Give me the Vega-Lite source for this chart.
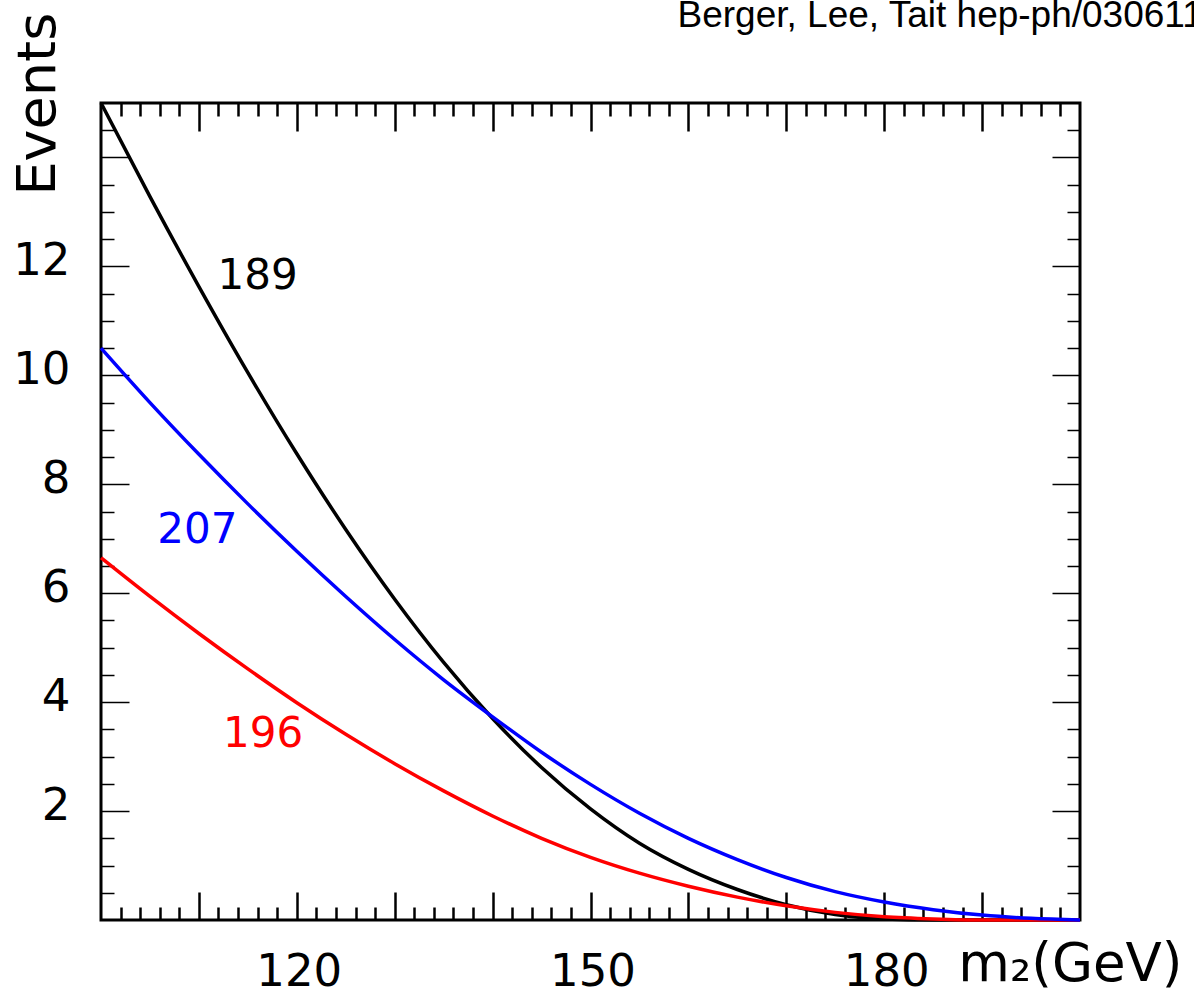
{
  "$schema": "https://vega.github.io/schema/vega-lite/v6.json",
  "width": 979,
  "height": 817,
  "autosize": {"type": "none"},
  "padding": {"left": 101, "top": 103, "right": 114, "bottom": 70},
  "background": "white",
  "datasets": {
    "c189": [
      {"m": 100, "n": 15.0}, {"m": 105, "n": 13.28}, {"m": 110, "n": 11.63}, {"m": 115, "n": 10.05},
      {"m": 120, "n": 8.56}, {"m": 125, "n": 7.17}, {"m": 130, "n": 5.89}, {"m": 135, "n": 4.73},
      {"m": 140, "n": 3.7}, {"m": 145, "n": 2.8}, {"m": 150, "n": 2.04}, {"m": 155, "n": 1.41},
      {"m": 160, "n": 0.93}, {"m": 165, "n": 0.56}, {"m": 170, "n": 0.28}, {"m": 175, "n": 0.1},
      {"m": 180, "n": 0.02}, {"m": 185, "n": 0.0}, {"m": 190, "n": 0.0}, {"m": 195, "n": 0.0},
      {"m": 200, "n": 0.0}
    ],
    "c196": [
      {"m": 100, "n": 6.65}, {"m": 105, "n": 5.94}, {"m": 110, "n": 5.26}, {"m": 115, "n": 4.61},
      {"m": 120, "n": 3.99}, {"m": 125, "n": 3.41}, {"m": 130, "n": 2.87}, {"m": 135, "n": 2.37},
      {"m": 140, "n": 1.91}, {"m": 145, "n": 1.5}, {"m": 150, "n": 1.15}, {"m": 155, "n": 0.86},
      {"m": 160, "n": 0.62}, {"m": 165, "n": 0.42}, {"m": 170, "n": 0.26}, {"m": 175, "n": 0.14},
      {"m": 180, "n": 0.06}, {"m": 185, "n": 0.02}, {"m": 190, "n": 0.0}, {"m": 195, "n": 0.0},
      {"m": 200, "n": 0.0}
    ],
    "c207": [
      {"m": 100, "n": 10.5}, {"m": 105, "n": 9.5}, {"m": 110, "n": 8.55}, {"m": 115, "n": 7.64},
      {"m": 120, "n": 6.77}, {"m": 125, "n": 5.94}, {"m": 130, "n": 5.15}, {"m": 135, "n": 4.41},
      {"m": 140, "n": 3.73}, {"m": 145, "n": 3.08}, {"m": 150, "n": 2.49}, {"m": 155, "n": 1.96},
      {"m": 160, "n": 1.5}, {"m": 165, "n": 1.11}, {"m": 170, "n": 0.78}, {"m": 175, "n": 0.52},
      {"m": 180, "n": 0.33}, {"m": 185, "n": 0.19}, {"m": 190, "n": 0.09}, {"m": 195, "n": 0.03},
      {"m": 200, "n": 0.0}
    ],
    "labels": [
      {"m": 116.0, "n": 11.82, "label": "189"},
      {"m": 109.85, "n": 7.16, "label": "207"},
      {"m": 116.55, "n": 3.42, "label": "196"}
    ]
  },
  "layer": [
    {
      "data": {"name": "c189"},
      "mark": {"type": "line", "color": "black", "strokeWidth": 3.5, "interpolate": "monotone"},
      "encoding": {
        "x": {
          "field": "m", "type": "quantitative",
          "scale": {"domain": [100, 200], "nice": false, "zero": false},
          "axis": {"orient": "bottom", "values": [102,104,106,108,112,114,116,118,122,124,126,128,132,134,136,138,142,144,146,148,152,154,156,158,162,164,166,168,172,174,176,178,182,184,186,188,192,194,196,198],
            "tickSize": -13, "tickWidth": 2.5, "tickColor": "black", "labels": false, "title": null, "domain": false, "grid": false}
        },
        "y": {
          "field": "n", "type": "quantitative",
          "scale": {"domain": [0, 15], "nice": false, "zero": false},
          "axis": {"orient": "left", "values": [0.5,1,1.5,2.5,3,3.5,4.5,5,5.5,6.5,7,7.5,8.5,9,9.5,10.5,11,11.5,12.5,13,13.5,14.5],
            "tickSize": -13, "tickWidth": 1.5, "tickColor": "black", "labels": false, "title": null, "domain": false, "grid": false}
        }
      }
    },
    {
      "data": {"name": "c196"},
      "mark": {"type": "line", "color": "#ff0000", "strokeWidth": 3.5, "interpolate": "monotone"},
      "encoding": {
        "x": {
          "field": "m", "type": "quantitative",
          "scale": {"domain": [100, 200], "nice": false, "zero": false},
          "axis": {"orient": "bottom", "values": [110,120,130,140,150,160,170,180,190],
            "labelExpr": "datum.value % 30 == 0 ? datum.label : ''",
            "tickSize": -28, "tickWidth": 2.5, "tickColor": "black", "domain": false, "grid": false,
            "labelFont": "DejaVu Sans", "labelFontSize": 45, "labelColor": "black", "labelPadding": 57, "labelBaseline": "top", "labelFlush": false, "labelOffset": 2,
            "title": "m₂(GeV)", "titleFont": "DejaVu Sans", "titleFontSize": 53, "titleFontWeight": "normal", "titleColor": "black",
            "titleX": 1081, "titleY": 60, "titleAlign": "right", "titleBaseline": "alphabetic"}
        },
        "y": {
          "field": "n", "type": "quantitative",
          "scale": {"domain": [0, 15], "nice": false, "zero": false},
          "axis": {"orient": "left", "values": [2,4,6,8,10,12,14],
            "labelExpr": "datum.value <= 12 ? datum.label : ''",
            "tickSize": -28, "tickWidth": 1.5, "tickColor": "black", "domain": false, "grid": false,
            "labelFont": "DejaVu Sans", "labelFontSize": 45, "labelColor": "black", "labelPadding": 59, "labelFlush": false, "labelOffset": -6,
            "title": "Events", "titleFont": "DejaVu Sans", "titleFontSize": 54, "titleFontWeight": "normal", "titleColor": "black",
            "titleX": -47, "titleY": 92, "titleAngle": 270, "titleAlign": "left", "titleBaseline": "alphabetic"}
        }
      }
    },
    {
      "data": {"name": "c207"},
      "mark": {"type": "line", "color": "#0000ff", "strokeWidth": 3.5, "interpolate": "monotone"},
      "encoding": {
        "x": {
          "field": "m", "type": "quantitative",
          "scale": {"domain": [100, 200], "nice": false, "zero": false},
          "axis": {"orient": "top", "values": [102,104,106,108,112,114,116,118,122,124,126,128,132,134,136,138,142,144,146,148,152,154,156,158,162,164,166,168,172,174,176,178,182,184,186,188,192,194,196,198],
            "tickSize": -13, "tickWidth": 2.5, "tickColor": "black", "labels": false, "title": null, "domain": false, "grid": false}
        },
        "y": {
          "field": "n", "type": "quantitative",
          "scale": {"domain": [0, 15], "nice": false, "zero": false},
          "axis": {"orient": "right", "values": [0.5,1,1.5,2.5,3,3.5,4.5,5,5.5,6.5,7,7.5,8.5,9,9.5,10.5,11,11.5,12.5,13,13.5,14.5],
            "tickSize": -13, "tickWidth": 1.5, "tickColor": "black", "labels": false, "title": null, "domain": false, "grid": false}
        }
      }
    },
    {
      "data": {"name": "labels"},
      "mark": {"type": "text", "font": "DejaVu Sans", "fontSize": 42, "align": "center", "baseline": "middle"},
      "encoding": {
        "x": {
          "field": "m", "type": "quantitative",
          "scale": {"domain": [100, 200], "nice": false, "zero": false},
          "axis": {"orient": "top", "values": [110,120,130,140,150,160,170,180,190],
            "tickSize": -28, "tickWidth": 2.5, "tickColor": "black", "labels": false, "domain": false, "grid": false,
            "title": "Berger, Lee, Tait hep-ph/0306110", "titleFont": "Liberation Sans", "titleFontSize": 37, "titleFontWeight": "normal", "titleColor": "black",
            "titleX": 576, "titleY": -77, "titleAlign": "left", "titleBaseline": "alphabetic"}
        },
        "y": {
          "field": "n", "type": "quantitative",
          "scale": {"domain": [0, 15], "nice": false, "zero": false},
          "axis": {"orient": "right", "values": [2,4,6,8,10,12,14],
            "tickSize": -28, "tickWidth": 1.5, "tickColor": "black", "labels": false, "title": null, "domain": false, "grid": false}
        },
        "text": {"field": "label", "type": "nominal"},
        "color": {"field": "label", "type": "nominal", "scale": {"domain": ["189", "196", "207"], "range": ["black", "#ff0000", "#0000ff"]}, "legend": null}
      }
    }
  ],
  "resolve": {"axis": {"x": "independent", "y": "independent"}},
  "config": {
    "view": {"stroke": "black", "strokeWidth": 3},
    "axis": {"grid": false}
  }
}
